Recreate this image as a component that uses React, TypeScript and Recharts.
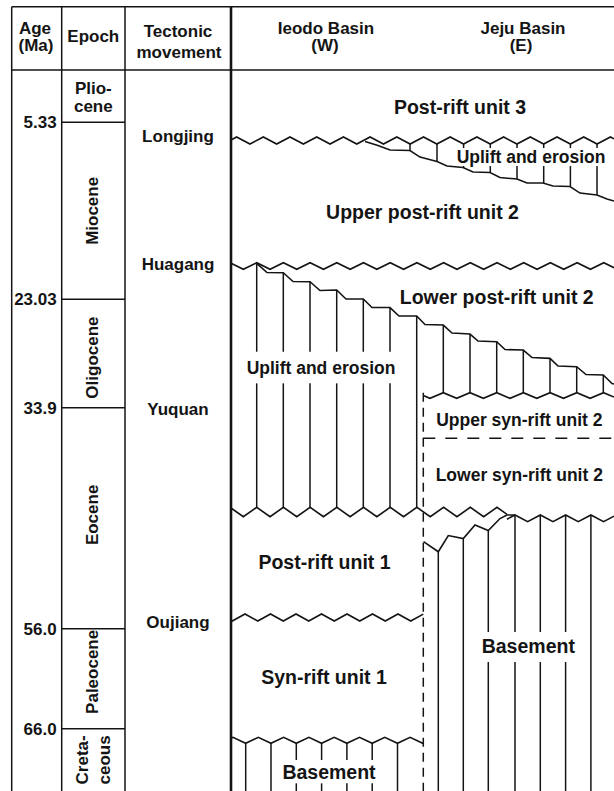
import { ComposedChart, Line, ReferenceLine, Scatter, XAxis, YAxis } from 'recharts'

type Label = { text: string; x: number; age: number; rotate?: boolean }
type Point = { x: number; age: number }
type Stroke = { x: number; top: number; bottom: number }
type Unconformity = { id: string; from: number; to: number; age: number; peakAt: number; period: number }

const CHART_WIDTH = 614
const CHART_HEIGHT = 791

// x: position across the figure (table columns, then the W-E section)
// y: age in Ma; the header row sits above 0 Ma
const X_DOMAIN: [number, number] = [0, 614]
const AGE_DOMAIN: [number, number] = [-6.885, 72.215]

const INK = '#141414'
const FONT = "'Liberation Sans', Arial, Helvetica, sans-serif"

// table frame
const TABLE_TOP = -6.215
const HEADER_BASE = 0.115
const TABLE_BOTTOM = 72.215
const COLUMN_EDGES = [11.7, 61.7, 125]
const SECTION_LEFT = 231
const SECTION_RIGHT = 614
const EPOCH_COLUMN = [61.7, 125]

const EPOCH_BOUNDARIES = [5.33, 23.03, 33.9, 56.0, 66.0]
const AGE_TICK_LABELS = ['5.33', '23.03', '33.9', '56.0', '66.0']

const HEADER_LABELS: Label[] = [
  { text: 'Age', x: 35, age: -4.1 },
  { text: '(Ma)', x: 36, age: -2.36 },
  { text: 'Epoch', x: 93.3, age: -3.27 },
  { text: 'Tectonic', x: 178, age: -3.78 },
  { text: 'movement', x: 179, age: -1.67 },
  { text: 'Ieodo Basin', x: 326, age: -4.1 },
  { text: '(W)', x: 325, age: -2.36 },
  { text: 'Jeju Basin', x: 523, age: -4.1 },
  { text: '(E)', x: 521, age: -2.36 },
]

const EPOCH_LABELS: Label[] = [
  { text: 'Plio-', x: 93.3, age: 1.95 },
  { text: 'cene', x: 93.3, age: 3.68 },
  { text: 'Miocene', x: 92, age: 14.2, rotate: true },
  { text: 'Oligocene', x: 92, age: 28.87, rotate: true },
  { text: 'Eocene', x: 92, age: 44.6, rotate: true },
  { text: 'Paleocene', x: 92, age: 60.3, rotate: true },
  { text: 'Creta-', x: 82, age: 69.1, rotate: true },
  { text: 'ceous', x: 104, age: 69.1, rotate: true },
]

const TECTONIC_LABELS: Label[] = [
  { text: 'Longjing', x: 178, age: 6.72 },
  { text: 'Huagang', x: 178, age: 19.5 },
  { text: 'Yuquan', x: 178, age: 34.05 },
  { text: 'Oujiang', x: 178, age: 55.3 },
]

const UNIT_LABELS: Label[] = [
  { text: 'Post-rift unit 3', x: 460, age: 3.79 },
  { text: 'Upper post-rift unit 2', x: 422.5, age: 14.32 },
  { text: 'Lower post-rift unit 2', x: 496.7, age: 22.82 },
  { text: 'Post-rift unit 1', x: 324.5, age: 49.32 },
  { text: 'Syn-rift unit 1', x: 324, age: 60.82 },
  { text: 'Basement', x: 528.3, age: 57.7 },
  { text: 'Basement', x: 329, age: 70.32 },
]

const MINOR_LABELS: Label[] = [
  { text: 'Uplift and erosion', x: 531, age: 8.75 },
  { text: 'Uplift and erosion', x: 321, age: 29.85 },
  { text: 'Upper syn-rift unit 2', x: 519.3, age: 35.08 },
  { text: 'Lower syn-rift unit 2', x: 519.3, age: 40.58 },
]

// wavy unconformities
const UNCONFORMITIES: Unconformity[] = [
  { id: 'longjing', from: 231, to: 614, age: 7.165, peakAt: 423.5, period: 26.7 },
  { id: 'huagang', from: 231, to: 614, age: 19.715, peakAt: 256.7, period: 26.7 },
  { id: 'postRift1Top', from: 231, to: 507, age: 44.315, peakAt: 256.7, period: 26.7 },
  { id: 'synRift2Top', from: 423.3, to: 614, age: 32.665, peakAt: 443.3, period: 26.7 },
  { id: 'eastBasementTop', from: 507, to: 614, age: 44.945, peakAt: 515, period: 25.3 },
  { id: 'oujiang', from: 231, to: 423.3, age: 54.865, peakAt: 245, period: 25.5 },
  { id: 'westBasementTop', from: 231, to: 423.3, age: 67.145, peakAt: 258.3, period: 25.3 },
]

const TOOTH_HEIGHT: Record<string, number> = {
  longjing: 3.5,
  huagang: 3.3,
  postRift1Top: 4.7,
  synRift2Top: 2.8,
  eastBasementTop: 3.3,
  oujiang: 3.5,
  westBasementTop: 3,
}

// base of the upper (east) erosion wedge
const UPPER_TRUNCATION: Point[] = [
  { x: 365, age: 7.27 }, { x: 378, age: 7.67 }, { x: 390, age: 8.12 }, { x: 410, age: 8.17 },
  { x: 420, age: 8.82 }, { x: 437, age: 9.27 }, { x: 447, age: 9.72 }, { x: 463, age: 9.87 },
  { x: 473, age: 10.32 }, { x: 490, age: 10.37 }, { x: 500, age: 10.87 }, { x: 517, age: 11.02 },
  { x: 527, age: 11.42 }, { x: 543, age: 11.42 }, { x: 553, age: 11.72 }, { x: 570, age: 11.77 },
  { x: 580, age: 12.42 }, { x: 597, age: 12.62 }, { x: 607, age: 13.02 }, { x: 614, age: 13.22 },
]

// top of the lower (west) erosion wedge, base of Lower post-rift unit 2
const LOWER_TRUNCATION: Point[] = [
  { x: 256.7, age: 19.45 }, { x: 267, age: 20.37 }, { x: 283.3, age: 20.39 }, { x: 293, age: 21.27 },
  { x: 310, age: 21.29 }, { x: 320, age: 22.17 }, { x: 336.7, age: 22.12 }, { x: 346, age: 23.02 },
  { x: 363.3, age: 23.02 }, { x: 372, age: 23.87 }, { x: 390, age: 23.87 }, { x: 399, age: 24.72 },
  { x: 416.7, age: 24.72 }, { x: 425, age: 25.57 }, { x: 443.3, age: 25.62 }, { x: 452, age: 26.42 },
  { x: 470, age: 26.52 }, { x: 478, age: 27.22 }, { x: 496.7, age: 27.29 }, { x: 505, age: 28.07 },
  { x: 523.3, age: 28.12 }, { x: 532, age: 28.87 }, { x: 550, age: 28.95 }, { x: 558, age: 29.72 },
  { x: 576.7, age: 29.79 }, { x: 586, age: 30.57 }, { x: 603.3, age: 30.62 }, { x: 612, age: 31.47 },
  { x: 614, age: 31.52 },
]

// top of the Jeju (east) basement high
const EAST_BASEMENT_TOP: Point[] = [
  { x: 423.5, age: 47.27 }, { x: 438.3, age: 48.29 }, { x: 448.3, age: 46.67 }, { x: 463.3, age: 46.97 },
  { x: 475, age: 45.62 }, { x: 488.3, age: 46.17 }, { x: 500, age: 44.97 }, { x: 507, age: 44.62 },
  { x: 515, age: 44.62 },
]

// vertical hatching (uplift / basement), split where a label crosses it
const UPPER_WEDGE_HATCH: Stroke[] = [
  { x: 410, top: 7.52, bottom: 8.17 },
  { x: 437, top: 7.52, bottom: 9.27 },
  { x: 463.6, top: 7.52, bottom: 7.92 }, { x: 463.6, top: 9.72, bottom: 9.87 },
  { x: 490.3, top: 7.52, bottom: 7.92 }, { x: 490.3, top: 9.72, bottom: 10.37 },
  { x: 517, top: 7.52, bottom: 7.92 }, { x: 517, top: 9.72, bottom: 11.02 },
  { x: 543.7, top: 7.52, bottom: 7.92 }, { x: 543.7, top: 9.72, bottom: 11.42 },
  { x: 570.4, top: 7.52, bottom: 7.92 }, { x: 570.4, top: 9.72, bottom: 11.77 },
  { x: 597, top: 7.52, bottom: 7.92 }, { x: 597, top: 9.72, bottom: 12.62 },
]

const LOWER_WEDGE_HATCH: Stroke[] = [
  { x: 256.7, top: 19.45, bottom: 28.29 }, { x: 256.7, top: 31.45, bottom: 43.85 },
  { x: 283.3, top: 20.39, bottom: 28.29 }, { x: 283.3, top: 31.45, bottom: 43.85 },
  { x: 310, top: 21.29, bottom: 28.29 }, { x: 310, top: 31.45, bottom: 43.85 },
  { x: 336.7, top: 22.12, bottom: 28.29 }, { x: 336.7, top: 31.45, bottom: 43.85 },
  { x: 363.3, top: 23.02, bottom: 28.29 }, { x: 363.3, top: 31.45, bottom: 43.85 },
  { x: 390, top: 23.87, bottom: 28.29 }, { x: 390, top: 31.45, bottom: 43.85 },
  { x: 416.7, top: 24.72, bottom: 43.85 },
  { x: 443.3, top: 25.62, bottom: 32.39 },
  { x: 470, top: 26.52, bottom: 32.39 },
  { x: 496.7, top: 27.29, bottom: 32.39 },
  { x: 523.3, top: 28.12, bottom: 32.39 },
  { x: 550, top: 28.95, bottom: 32.39 },
  { x: 576.7, top: 29.79, bottom: 32.39 },
  { x: 603.3, top: 30.62, bottom: 32.39 },
]

const EAST_BASEMENT_HATCH: Stroke[] = [
  { x: 438.3, top: 48.29, bottom: 72.215 },
  { x: 463.3, top: 46.97, bottom: 72.215 },
  { x: 488.3, top: 46.17, bottom: 56.32 }, { x: 488.3, top: 59.32, bottom: 72.215 },
  { x: 515, top: 44.62, bottom: 56.32 }, { x: 515, top: 59.32, bottom: 72.215 },
  { x: 540.3, top: 44.62, bottom: 56.32 }, { x: 540.3, top: 59.32, bottom: 72.215 },
  { x: 565.6, top: 44.62, bottom: 56.32 }, { x: 565.6, top: 59.32, bottom: 72.215 },
  { x: 590.9, top: 44.62, bottom: 72.215 },
]

const WEST_BASEMENT_HATCH: Stroke[] = [
  { x: 245.7, top: 67.45, bottom: 72.215 },
  { x: 271, top: 67.45, bottom: 72.215 },
  { x: 296.3, top: 67.45, bottom: 69.12 }, { x: 296.3, top: 71.45, bottom: 72.215 },
  { x: 321.6, top: 67.45, bottom: 69.12 }, { x: 321.6, top: 71.45, bottom: 72.215 },
  { x: 346.9, top: 67.45, bottom: 69.12 }, { x: 346.9, top: 71.45, bottom: 72.215 },
  { x: 372.2, top: 67.45, bottom: 69.12 }, { x: 372.2, top: 71.45, bottom: 72.215 },
  { x: 397.5, top: 67.45, bottom: 72.215 },
]

// dashed limits of the syn-rift unit 2 sub-basin
const SUB_BASIN_EDGE = { x: 423.3, top: 32.39, bottom: 72.215 }
const SYN_RIFT_SPLIT = { age: 36.95, from: 423.3, to: 614 }

function zigzagShape(u: Unconformity) {
  return (props: any) => {
    const { x1, x2, y1, stroke, strokeWidth } = props
    const scale = (x2 - x1) / (u.to - u.from)
    const half = (u.period * scale) / 2
    const amp = TOOTH_HEIGHT[u.id] ?? 3.5
    const firstPeak = x1 + (u.peakAt - u.from) * scale
    const vx = (i: number) => firstPeak + i * half
    const vy = (i: number) => (Math.abs(i) % 2 === 0 ? y1 - amp : y1 + amp)
    const between = (i: number, x: number) => vy(i) + (vy(i + 1) - vy(i)) * ((x - vx(i)) / half)
    const i0 = Math.ceil((x1 - firstPeak) / half)
    const i1 = Math.floor((x2 - firstPeak) / half)
    const pts: number[][] = [[x1, between(i0 - 1, x1)]]
    for (let i = i0; i <= i1; i++) pts.push([vx(i), vy(i)])
    pts.push([x2, between(i1, x2)])
    const d = pts.map((p, i) => `${i === 0 ? 'M' : 'L'}${p[0].toFixed(2)},${p[1].toFixed(2)}`).join('')
    return <path d={d} fill="none" stroke={stroke} strokeWidth={strokeWidth} strokeLinejoin="miter" />
  }
}

function textShape(fontSize: number) {
  return (props: any) => {
    const { cx, cy, payload } = props
    return (
      <text
        x={cx}
        y={cy}
        dy="0.355em"
        textAnchor="middle"
        fontSize={fontSize}
        fontWeight={700}
        fontFamily={FONT}
        fill={INK}
        transform={payload.rotate ? `rotate(-90 ${cx} ${cy})` : undefined}
      >
        {payload.text}
      </text>
    )
  }
}

function hatchLines(strokes: Stroke[], key: string) {
  return strokes.map((s, i) => (
    <ReferenceLine
      key={`${key}-${i}`}
      segment={[{ x: s.x, y: s.top }, { x: s.x, y: s.bottom }]}
      stroke={INK}
      strokeWidth={1.5}
    />
  ))
}

export default function App() {
  return (
    <div style={{ position: 'absolute', left: 0, top: 0, width: CHART_WIDTH, height: CHART_HEIGHT, background: '#fff' }}>
      <ComposedChart width={CHART_WIDTH} height={CHART_HEIGHT} margin={{ top: 0, right: 0, bottom: 0, left: 0 }}>
        <XAxis type="number" dataKey="x" domain={X_DOMAIN} hide allowDataOverflow />
        <YAxis type="number" dataKey="age" domain={AGE_DOMAIN} reversed hide allowDataOverflow />

        {/* table frame */}
        <ReferenceLine segment={[{ x: COLUMN_EDGES[0], y: TABLE_TOP }, { x: SECTION_RIGHT, y: TABLE_TOP }]} stroke={INK} strokeWidth={1.6} />
        <ReferenceLine segment={[{ x: COLUMN_EDGES[0], y: HEADER_BASE }, { x: SECTION_RIGHT, y: HEADER_BASE }]} stroke={INK} strokeWidth={1.6} />
        {COLUMN_EDGES.map((x) => (
          <ReferenceLine key={`col-${x}`} segment={[{ x, y: TABLE_TOP }, { x, y: TABLE_BOTTOM }]} stroke={INK} strokeWidth={1.5} />
        ))}
        <ReferenceLine segment={[{ x: SECTION_LEFT, y: TABLE_TOP }, { x: SECTION_LEFT, y: TABLE_BOTTOM }]} stroke={INK} strokeWidth={2.6} />

        {/* epoch boundaries with their ages */}
        {EPOCH_BOUNDARIES.map((age, i) => (
          <ReferenceLine
            key={`epoch-${age}`}
            segment={[{ x: EPOCH_COLUMN[0], y: age }, { x: EPOCH_COLUMN[1], y: age }]}
            stroke={INK}
            strokeWidth={1.5}
            label={{
              value: AGE_TICK_LABELS[i],
              position: 'left',
              offset: 5,
              fill: INK,
              fontSize: 17,
              fontWeight: 700,
              fontFamily: FONT,
            }}
          />
        ))}

        {/* unconformities */}
        {UNCONFORMITIES.map((u) => (
          <ReferenceLine
            key={u.id}
            segment={[{ x: u.from, y: u.age }, { x: u.to, y: u.age }]}
            stroke={INK}
            strokeWidth={1.6}
            shape={zigzagShape(u)}
          />
        ))}

        {/* truncation surfaces */}
        <Line data={UPPER_TRUNCATION} dataKey="age" type="linear" stroke={INK} strokeWidth={1.6} dot={false} activeDot={false} isAnimationActive={false} />
        <Line data={LOWER_TRUNCATION} dataKey="age" type="linear" stroke={INK} strokeWidth={1.6} dot={false} activeDot={false} isAnimationActive={false} />
        <Line data={EAST_BASEMENT_TOP} dataKey="age" type="linear" stroke={INK} strokeWidth={1.6} dot={false} activeDot={false} isAnimationActive={false} />

        {hatchLines(UPPER_WEDGE_HATCH, 'uw')}
        {hatchLines(LOWER_WEDGE_HATCH, 'lw')}
        {hatchLines(EAST_BASEMENT_HATCH, 'eb')}
        {hatchLines(WEST_BASEMENT_HATCH, 'wb')}

        <ReferenceLine
          segment={[{ x: SUB_BASIN_EDGE.x, y: SUB_BASIN_EDGE.top }, { x: SUB_BASIN_EDGE.x, y: SUB_BASIN_EDGE.bottom }]}
          stroke={INK}
          strokeWidth={1.5}
          strokeDasharray="9 6"
        />
        <ReferenceLine
          segment={[{ x: SYN_RIFT_SPLIT.from, y: SYN_RIFT_SPLIT.age }, { x: SYN_RIFT_SPLIT.to, y: SYN_RIFT_SPLIT.age }]}
          stroke={INK}
          strokeWidth={1.5}
          strokeDasharray="12 10"
        />

        {/* text */}
        <Scatter data={HEADER_LABELS} shape={textShape(17)} isAnimationActive={false} />
        <Scatter data={EPOCH_LABELS} shape={textShape(17)} isAnimationActive={false} />
        <Scatter data={TECTONIC_LABELS} shape={textShape(17)} isAnimationActive={false} />
        <Scatter data={UNIT_LABELS} shape={textShape(19.5)} isAnimationActive={false} />
        <Scatter data={MINOR_LABELS} shape={textShape(17.5)} isAnimationActive={false} />
      </ComposedChart>
    </div>
  )
}
